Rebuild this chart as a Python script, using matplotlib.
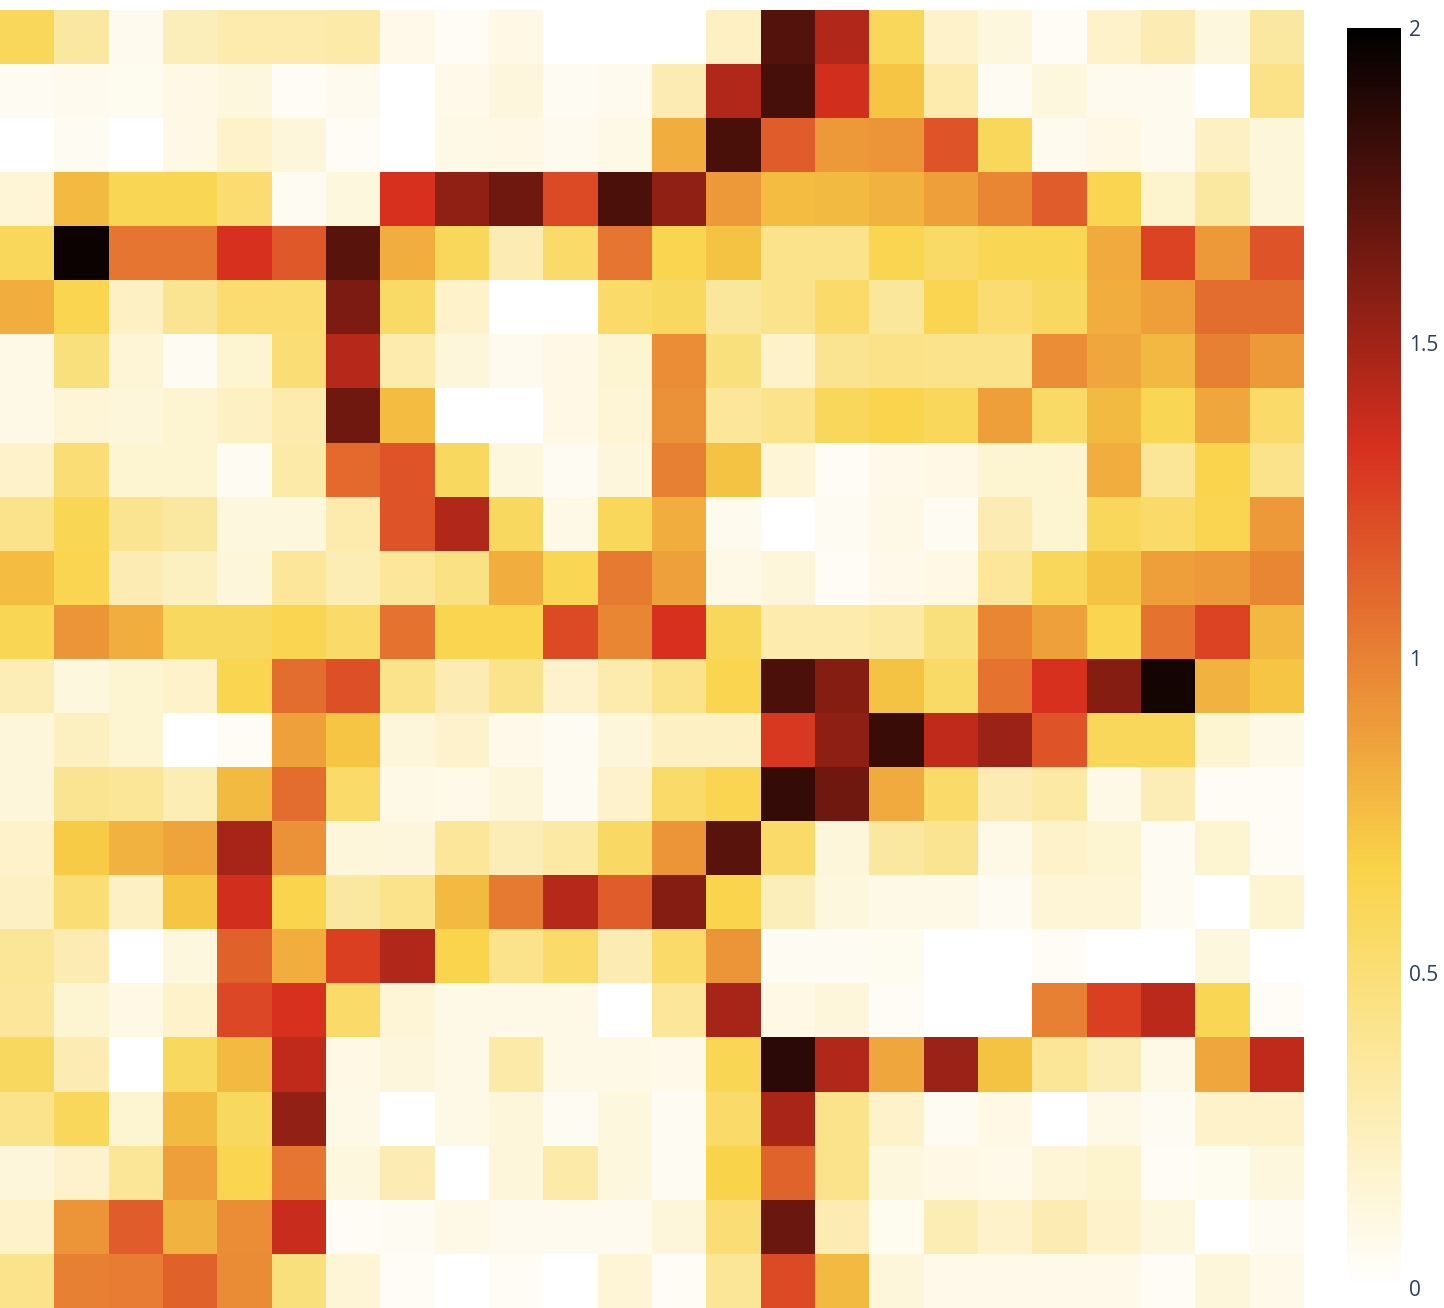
import numpy as np
import matplotlib
matplotlib.use("Agg")
import matplotlib.pyplot as plt
from matplotlib.colors import LinearSegmentedColormap

row_00 = [0.60, 0.35, 0.07, 0.25, 0.30, 0.30, 0.32, 0.08, 0.04, 0.10, 0.00, 0.00, 0.00, 0.22, 1.74, 1.45, 0.60, 0.20, 0.12, 0.04, 0.20, 0.28, 0.12, 0.35]
row_01 = [0.05, 0.07, 0.06, 0.10, 0.12, 0.04, 0.07, 0.00, 0.08, 0.13, 0.05, 0.07, 0.28, 1.45, 1.78, 1.35, 0.72, 0.30, 0.05, 0.12, 0.07, 0.07, 0.00, 0.43]
row_02 = [0.00, 0.05, 0.00, 0.10, 0.20, 0.14, 0.04, 0.00, 0.09, 0.10, 0.07, 0.09, 0.82, 1.77, 1.15, 0.90, 0.92, 1.18, 0.60, 0.07, 0.10, 0.07, 0.22, 0.14]
row_03 = [0.15, 0.77, 0.62, 0.62, 0.52, 0.05, 0.12, 1.33, 1.55, 1.65, 1.22, 1.76, 1.55, 0.90, 0.75, 0.77, 0.80, 0.88, 0.98, 1.15, 0.63, 0.18, 0.35, 0.14]
row_04 = [0.60, 1.96, 1.05, 1.05, 1.33, 1.17, 1.72, 0.82, 0.60, 0.28, 0.55, 1.05, 0.64, 0.73, 0.42, 0.42, 0.63, 0.56, 0.62, 0.62, 0.83, 1.25, 0.90, 1.18]
row_05 = [0.82, 0.64, 0.22, 0.40, 0.52, 0.52, 1.61, 0.56, 0.20, 0.00, 0.00, 0.55, 0.58, 0.36, 0.42, 0.55, 0.36, 0.63, 0.52, 0.58, 0.82, 0.88, 1.08, 1.08]
row_06 = [0.09, 0.47, 0.15, 0.05, 0.17, 0.50, 1.43, 0.30, 0.14, 0.07, 0.10, 0.17, 0.95, 0.47, 0.20, 0.40, 0.43, 0.42, 0.42, 0.95, 0.85, 0.78, 1.00, 0.90]
row_07 = [0.09, 0.15, 0.14, 0.17, 0.22, 0.30, 1.65, 0.75, 0.00, 0.00, 0.10, 0.15, 0.93, 0.37, 0.42, 0.60, 0.65, 0.60, 0.88, 0.56, 0.77, 0.62, 0.85, 0.55]
row_08 = [0.20, 0.50, 0.17, 0.17, 0.05, 0.32, 1.10, 1.18, 0.58, 0.12, 0.05, 0.13, 1.00, 0.73, 0.15, 0.04, 0.08, 0.10, 0.17, 0.17, 0.82, 0.38, 0.65, 0.42]
row_09 = [0.42, 0.62, 0.40, 0.35, 0.12, 0.12, 0.30, 1.18, 1.45, 0.58, 0.09, 0.60, 0.82, 0.07, 0.00, 0.05, 0.09, 0.05, 0.28, 0.17, 0.60, 0.55, 0.63, 0.90]
row_10 = [0.75, 0.63, 0.28, 0.23, 0.14, 0.37, 0.27, 0.37, 0.45, 0.82, 0.62, 1.03, 0.87, 0.09, 0.14, 0.04, 0.08, 0.10, 0.37, 0.60, 0.73, 0.88, 0.90, 0.98]
row_11 = [0.62, 0.92, 0.82, 0.58, 0.58, 0.63, 0.55, 1.06, 0.64, 0.64, 1.22, 0.98, 1.33, 0.60, 0.30, 0.30, 0.33, 0.47, 0.98, 0.87, 0.64, 1.06, 1.25, 0.78]
row_12 = [0.26, 0.12, 0.17, 0.20, 0.64, 1.08, 1.20, 0.42, 0.28, 0.42, 0.19, 0.30, 0.42, 0.64, 1.76, 1.58, 0.73, 0.56, 1.06, 1.33, 1.58, 1.93, 0.80, 0.72]
row_13 = [0.14, 0.23, 0.17, 0.00, 0.04, 0.87, 0.72, 0.14, 0.19, 0.08, 0.05, 0.14, 0.22, 0.22, 1.30, 1.56, 1.82, 1.40, 1.52, 1.18, 0.60, 0.60, 0.17, 0.09]
row_14 = [0.14, 0.40, 0.38, 0.27, 0.77, 1.08, 0.55, 0.09, 0.08, 0.14, 0.05, 0.19, 0.55, 0.63, 1.83, 1.65, 0.83, 0.55, 0.28, 0.33, 0.09, 0.26, 0.04, 0.04]
row_15 = [0.20, 0.70, 0.80, 0.86, 1.48, 0.93, 0.14, 0.13, 0.37, 0.26, 0.33, 0.57, 0.92, 1.72, 0.55, 0.14, 0.35, 0.40, 0.09, 0.20, 0.17, 0.05, 0.17, 0.04]
row_16 = [0.22, 0.50, 0.22, 0.72, 1.35, 0.65, 0.35, 0.42, 0.77, 1.03, 1.43, 1.15, 1.58, 0.65, 0.25, 0.12, 0.09, 0.09, 0.05, 0.15, 0.15, 0.05, 0.00, 0.17]
row_17 = [0.38, 0.28, 0.00, 0.12, 1.13, 0.82, 1.27, 1.45, 0.65, 0.42, 0.55, 0.28, 0.55, 0.92, 0.05, 0.05, 0.06, 0.00, 0.00, 0.04, 0.00, 0.00, 0.12, 0.00]
row_18 = [0.37, 0.17, 0.10, 0.20, 1.23, 1.33, 0.55, 0.15, 0.09, 0.09, 0.09, 0.00, 0.37, 1.48, 0.10, 0.14, 0.04, 0.00, 0.00, 1.00, 1.27, 1.42, 0.62, 0.04]
row_19 = [0.58, 0.28, 0.00, 0.58, 0.77, 1.40, 0.10, 0.13, 0.09, 0.32, 0.09, 0.09, 0.08, 0.62, 1.86, 1.45, 0.85, 1.52, 0.73, 0.38, 0.27, 0.09, 0.85, 1.40]
row_20 = [0.42, 0.60, 0.17, 0.77, 0.58, 1.54, 0.09, 0.00, 0.09, 0.14, 0.05, 0.12, 0.05, 0.55, 1.47, 0.42, 0.20, 0.05, 0.10, 0.00, 0.09, 0.05, 0.20, 0.20]
row_21 = [0.14, 0.19, 0.38, 0.88, 0.64, 1.05, 0.12, 0.28, 0.00, 0.14, 0.32, 0.12, 0.05, 0.66, 1.12, 0.42, 0.12, 0.10, 0.08, 0.15, 0.18, 0.04, 0.06, 0.12]
row_22 = [0.20, 0.92, 1.15, 0.80, 0.95, 1.38, 0.04, 0.05, 0.09, 0.07, 0.07, 0.07, 0.14, 0.50, 1.67, 0.28, 0.06, 0.27, 0.20, 0.28, 0.20, 0.12, 0.00, 0.05]
row_23 = [0.42, 1.00, 1.02, 1.13, 0.96, 0.47, 0.15, 0.04, 0.00, 0.04, 0.00, 0.15, 0.04, 0.38, 1.22, 0.77, 0.14, 0.08, 0.08, 0.08, 0.08, 0.04, 0.14, 0.08]

z = np.array([row_00, row_01, row_02, row_03, row_04, row_05, row_06, row_07,
              row_08, row_09, row_10, row_11, row_12, row_13, row_14, row_15,
              row_16, row_17, row_18, row_19, row_20, row_21, row_22, row_23])

colorbar_ticks = [0, 0.5, 1, 1.5, 2]
colorbar_ticklabels = ["0", "0.5", "1", "1.5", "2"]

cmap = LinearSegmentedColormap.from_list(
    "custom",
    [(0.0, (1, 1, 1)),
     (1 / 3, (249 / 255, 211 / 255, 72 / 255)),
     (2 / 3, (215 / 255, 48 / 255, 31 / 255)),
     (1.0, (0, 0, 0))])

W, H = 1444, 1308
fig = plt.figure(figsize=(W / 100, H / 100), dpi=100)
ax = fig.add_axes([0, 0 / H, 1304 / W, (1308 - 10) / H])
im = ax.imshow(z, cmap=cmap, vmin=0, vmax=2, aspect="auto", interpolation="nearest")
ax.set_xticks([])
ax.set_yticks([])
for s in ax.spines.values():
    s.set_visible(False)

cax = fig.add_axes([1347 / W, (H - 1288) / H, 54 / W, (1288 - 28) / H])
cb = fig.colorbar(im, cax=cax, ticks=colorbar_ticks)
cb.outline.set_visible(False)
cb.ax.set_yticklabels(colorbar_ticklabels)
cb.ax.tick_params(length=0, pad=6, labelsize=15, labelcolor="#2a3f5f")
for t in cb.ax.get_yticklabels():
    t.set_family("Open Sans")

fig.savefig("out.png", dpi=100)
